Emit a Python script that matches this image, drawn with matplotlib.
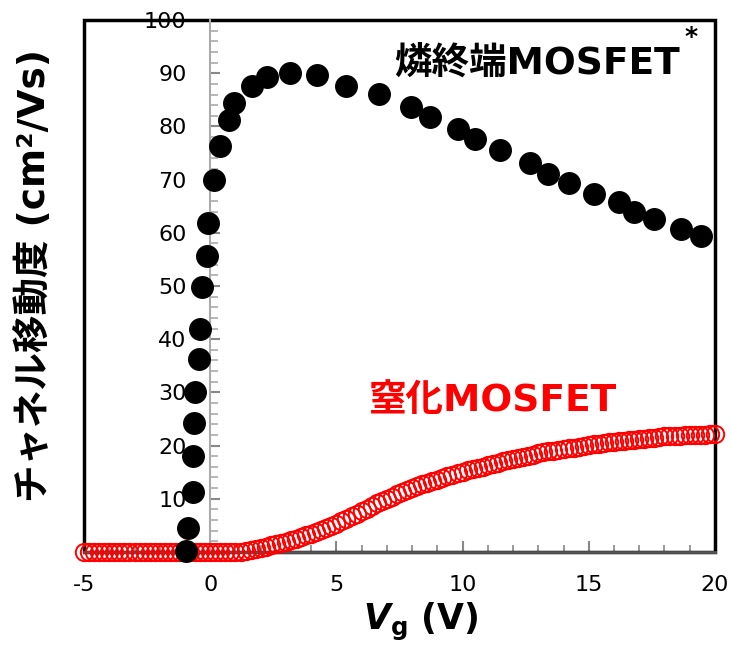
import numpy as np
import matplotlib
matplotlib.use('Agg')
import matplotlib.pyplot as plt
from matplotlib.patches import Rectangle
from matplotlib.ticker import MultipleLocator

plt.rcParams['font.family'] = ['DejaVu Sans', 'Noto Sans CJK JP']

# 燐終端MOSFET (黒丸)
vg_p = [-0.95, -0.87, -0.68, -0.68, -0.63, -0.6, -0.43, -0.4, -0.33, -0.13,
        -0.1, 0.13, 0.4, 0.75, 0.95, 1.67, 2.26, 3.17, 4.25, 5.4,
        6.7, 7.97, 8.7, 9.8, 10.5, 11.5, 12.66, 13.4, 14.2, 15.2,
        16.2, 16.8, 17.6, 18.65, 19.45]
mu_p = [0.2, 4.5, 11.3, 18.1, 24.2, 30.0, 36.2, 41.9, 49.8, 55.7,
        61.9, 70.0, 76.4, 81.3, 84.5, 87.6, 89.4, 90.0, 89.6, 87.7,
        86.2, 83.6, 81.7, 79.6, 77.7, 75.5, 73.2, 71.1, 69.3, 67.3,
        65.8, 64.0, 62.6, 60.8, 59.4]

# 窒化MOSFET (赤丸), -5 V から 0.2 V 刻み
mu_n = [0.0] * 32 + [
    0.2, 0.4, 0.6, 0.8, 1.0,
    1.2, 1.4, 1.6, 1.9, 2.2,
    2.5, 2.8, 3.1, 3.4, 3.7,
    4.1, 4.5, 4.9, 5.3, 5.8,
    6.2, 6.7, 7.1, 7.6, 8.1,
    8.6, 9.1, 9.6, 10.0, 10.4,
    10.8, 11.2, 11.6, 12.0, 12.4,
    12.7, 13.0, 13.3, 13.6, 13.9,
    14.2, 14.5, 14.8, 15.0, 15.3,
    15.6, 15.8, 16.0, 16.3, 16.5,
    16.8, 17.0, 17.2, 17.5, 17.7,
    17.9, 18.1, 18.3, 18.5, 18.7,
    18.9, 19.0, 19.2, 19.3, 19.5,
    19.6, 19.8, 19.9, 20.1, 20.2,
    20.3, 20.5, 20.6, 20.7, 20.8,
    20.9, 21.0, 21.1, 21.2, 21.3,
    21.4, 21.5, 21.6, 21.7, 21.7,
    21.8, 21.8, 21.9, 21.9, 22.0,
    22.0, 22.0, 22.1, 22.1]
vg_n = np.round(-5 + 0.2 * np.arange(len(mu_n)), 1)

x_ticks = [-5, 0, 5, 10, 15, 20]
y_ticks = [10, 20, 30, 40, 50, 60, 70, 80, 90, 100]

fig = plt.figure(figsize=(7.31, 6.5), dpi=100)
ax = fig.add_axes([0.115, 0.151, 0.863, 0.818])

ax.plot(vg_n, mu_n, 'o', ms=12.5, mfc='none', mec='red', mew=1.4, zorder=3,
        clip_on=False)
ax.plot(vg_p, mu_p, 'o', ms=15.5, color='black', zorder=4, clip_on=False)

ax.set_xlim(-5, 20)
ax.set_ylim(0, 100)

# y軸は x=0 の位置
ax.spines['left'].set_position(('data', 0))
ax.spines['left'].set_color('#aaaaaa')
ax.spines['left'].set_linewidth(1.5)
ax.spines['bottom'].set_color('#555555')
ax.spines['bottom'].set_linewidth(2)
ax.spines['top'].set_visible(False)
ax.spines['right'].set_visible(False)
ax.add_patch(Rectangle((0, 0), 1, 1, transform=ax.transAxes, fill=False,
                       lw=2.5, ec='black', clip_on=False, zorder=2))

ax.set_xticks(x_ticks)
ax.set_xticklabels([str(v) for v in x_ticks])
ax.set_yticks(y_ticks)
ax.set_yticklabels([str(v) for v in y_ticks])
ax.xaxis.set_minor_locator(MultipleLocator(1))
ax.yaxis.set_minor_locator(MultipleLocator(2))
ax.tick_params(axis='x', which='major', direction='in', length=8, width=1.5,
               color='#888888', labelsize=16, pad=17)
ax.tick_params(axis='x', which='minor', direction='in', length=5, width=1.2,
               color='#888888')
ax.tick_params(axis='y', which='major', direction='in', length=7, width=1.5,
               color='#888888', labelsize=16, pad=17)
ax.tick_params(axis='y', which='minor', direction='in', length=6, width=1.2,
               color='#aaaaaa')

ax.set_xlabel('$\\mathbfit{V}_\\mathbf{g}$ (V)', fontsize=25, fontweight='bold',
              labelpad=4)
ax.xaxis.label.set_x(0.534)
ax.set_ylabel('チャネル移動度 (cm²/Vs)', fontsize=27, fontweight='bold')
ax.yaxis.set_label_coords(-0.05, 0.52)

ax.text(18.6, 90, '燐終端MOSFET', fontsize=27, fontweight='bold',
        ha='right', va='baseline', zorder=6)
ax.text(19.05, 95.5, '*', fontsize=18, fontweight='bold', ha='center',
        va='baseline', zorder=6)
ax.text(6.3, 26.4, '窒化MOSFET', fontsize=27, fontweight='bold', color='red',
        ha='left', va='baseline', zorder=6)

fig.savefig('out.png', dpi=100)
